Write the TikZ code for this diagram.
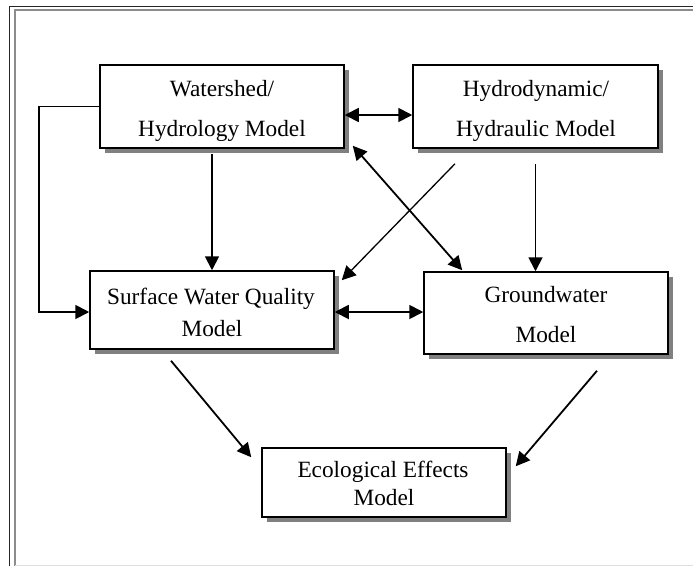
\documentclass[tikz,border=0pt]{standalone}
\usepackage{fontspec}
\setmainfont{Liberation Serif}
\usetikzlibrary{arrows.meta,calc,shadows}
\begin{document}
\begin{tikzpicture}[x=1pt,y=-1pt,
  modelbox/.style={draw=black,line width=1.5pt,fill=white,inner sep=0pt,
    drop shadow={shadow xshift=5pt,shadow yshift=-5pt,fill=black!50,opacity=1}},
  txt/.style={anchor=base,inner sep=0pt,font=\fontsize{23.3}{28}\selectfont},
  arr/.style={line width=1.8pt,-{Triangle[length=14pt,width=14pt]}},
  darr/.style={line width=1.8pt,{Triangle[length=14pt,width=14pt]}-{Triangle[length=14pt,width=14pt]}},
  thin arr/.style={line width=1.3pt,-{Triangle[length=14pt,width=14pt]}}
]
\useasboundingbox (0,0) rectangle (693,566);
\fill[white] (0,0) rectangle (693,566);
% frame
\draw[line width=1.5pt,black!85] (9.5,566) -- (9.5,6.5) -- (693,6.5);
\draw[line width=2pt,black!45] (15,566) -- (15,10) -- (693,10);
\draw[line width=1pt,black!12] (15,565.5) -- (693,565.5);

% boxes
\node[modelbox,minimum width=244pt,minimum height=83pt] (ws) at (222,106.5) {};
\node[modelbox,minimum width=245pt,minimum height=83pt] (hy) at (535.5,106.5) {};
\node[modelbox,minimum width=244pt,minimum height=78pt] (sw) at (212,310) {};
\node[modelbox,minimum width=244pt,minimum height=82pt] (gw) at (546,313) {};
\node[modelbox,minimum width=244pt,minimum height=69pt] (eco) at (384,482.5) {};

% texts
\node[txt] (ws1) at (222,96) {Watershed/};
\node[txt] (ws2) at (222,136) {Hydrology Model};
\node[txt] (hy1) at (536,96) {Hydrodynamic/};
\node[txt] (hy2) at (536,136) {Hydraulic Model};
\node[txt] (sw1) at (211,304) {Surface Water Quality};
\node[txt] (sw2) at (212,336) {Model};
\node[txt] (gw1) at (546,302) {Groundwater};
\node[txt] (gw2) at (546,342) {Model};
\node[txt] (eco1) at (383,477.5) {Ecological Effects};
\node[txt] (eco2) at (384,505) {Model};

% connectors
\coordinate (a1) at ($(ws.east)+(0,8.5)$);
\draw[darr] (a1) -- (a1 -| hy.west);

\coordinate (a2) at ($(ws.south -| sw.north)+(0,5)$);
\draw[arr] (a2) -- (sw.north);

\draw[arr] (ws.west) -- ++(-60,0) |- ($(sw.west)+(0,2)$);

\coordinate (a4s) at ($(hy.south)+(-80.5,15)$);
\coordinate (a4e) at ($(sw.north east)+(7,10)$);
\draw[thin arr] (a4s) -- (a4e);

\coordinate (a5s) at ($(ws.south east)+(8,-3)$);
\coordinate (a5e) at ($(gw.north west)+(39,-1)$);
\draw[darr] (a5s) -- (a5e);

\coordinate (a6) at ($(hy.south)+(0,15)$);
\draw[arr] (a6) -- (a6 |- gw.north);

\coordinate (a7) at ($(sw.east)+(0,2)$);
\draw[darr] (a7) -- (a7 -| gw.west);

\coordinate (a8s) at ($(sw.south)+(-41,11)$);
\coordinate (a8e) at ($(eco.north west)+(-10,10)$);
\draw[arr] (a8s) -- (a8e);

\coordinate (a9s) at ($(gw.south)+(51,16)$);
\coordinate (a9e) at ($(eco.north east)+(9,19)$);
\draw[arr] (a9s) -- (a9e);
\end{tikzpicture}
\end{document}
